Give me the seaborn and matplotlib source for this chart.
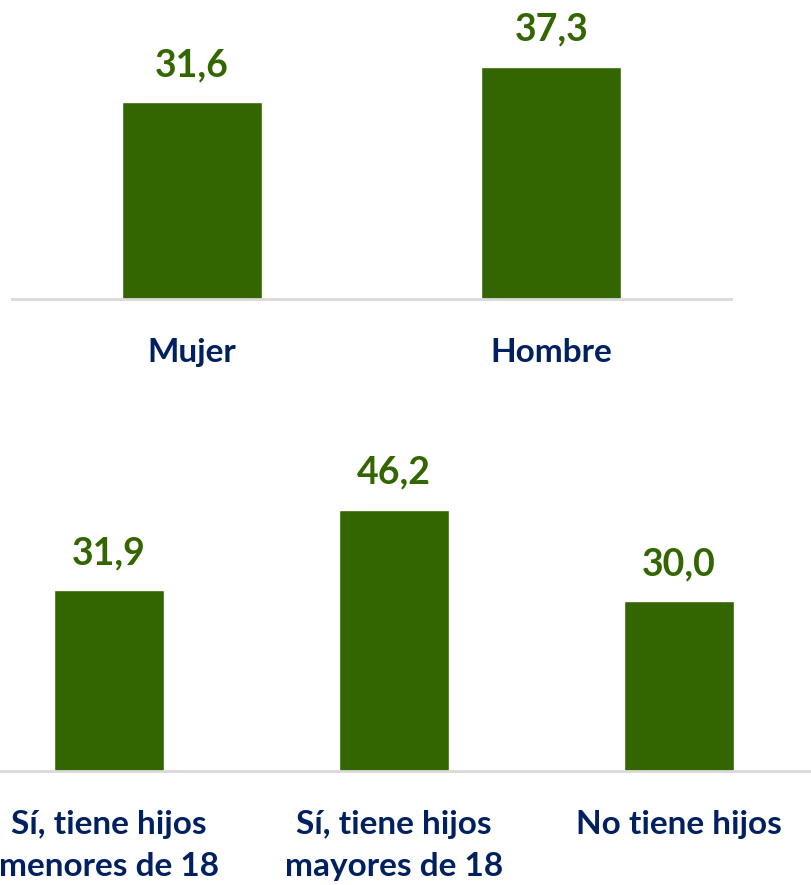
import matplotlib
matplotlib.use("Agg")
import matplotlib.pyplot as plt
import seaborn as sns
import pandas as pd

sexo_labels = ["Mujer", "Hombre"]
sexo_values = [31.6, 37.3]
hijos_labels = ["Sí, tiene hijos\nmenores de 18", "Sí, tiene hijos\nmayores de 18", "No tiene hijos"]
hijos_values = [31.9, 46.2, 30.0]

GREEN = "#336600"
NAVY = "#002060"
GRID = "#D9D9D9"

sns.set_theme(style="white")
plt.rcParams["font.family"] = ["Lato", "DejaVu Sans"]

W, H = 811, 885
fig = plt.figure(figsize=(W / 100, H / 100), dpi=100)

def px_axes(left, top, right, bottom):
    return fig.add_axes([left / W, 1 - bottom / H, (right - left) / W, (bottom - top) / H])

def draw(ax, labels, values, width, ymax, pad):
    df = pd.DataFrame({"cat": labels, "val": values})
    sns.barplot(data=df, x="cat", y="val", color=GREEN, saturation=1, width=width, ax=ax)
    ax.set_ylim(0, ymax)
    ax.set_xlim(-0.5, len(labels) - 0.5)
    for s in ["top", "left", "right"]:
        ax.spines[s].set_visible(False)
    ax.spines["bottom"].set_color(GRID)
    ax.spines["bottom"].set_linewidth(2)
    ax.set_yticks([])
    ax.set_xlabel("")
    ax.set_ylabel("")
    ax.tick_params(axis="x", length=0, pad=pad)
    for t in ax.get_xticklabels():
        t.set_fontsize(24)
        t.set_fontweight("bold")
        t.set_color(NAVY)
        t.set_linespacing(1.55)
    for i, v in enumerate(values):
        ax.annotate(f"{v:.1f}".replace(".", ","), (i, v), xytext=(0, 18.7),
                    textcoords="offset points", ha="center", va="baseline",
                    fontsize=27, fontweight="bold", color=GREEN)
    ax.patch.set_alpha(0)

ax1 = px_axes(12, 0, 731, 299)
draw(ax1, sexo_labels, sexo_values, 0.39, 299 / 6.23, 28)

ax2 = px_axes(-33.5, 400, 821.5, 771)
draw(ax2, hijos_labels, hijos_values, 0.386, 371 / 5.66, 28)

fig.savefig("out.png", dpi=100, facecolor="white")
